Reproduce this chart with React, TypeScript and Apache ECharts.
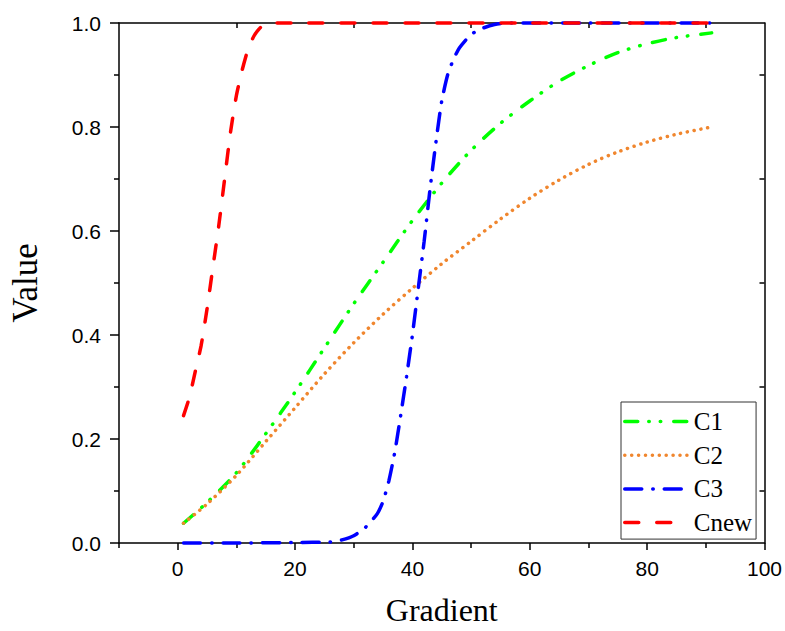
import React, { useEffect, useRef } from "react";
import * as echarts from "echarts";

// Gradient positions sampled for each curve
const gradC1 = [1, 5, 10, 15, 20, 25, 30, 35, 40, 45, 50, 55, 60, 65, 70, 75, 80, 85, 91];
const valC1 = [0.038, 0.078, 0.135, 0.21, 0.29, 0.375, 0.46, 0.54, 0.62, 0.692, 0.755, 0.807, 0.85, 0.888, 0.918, 0.943, 0.96, 0.972, 0.981];

const gradC2 = [1, 5, 10, 15, 20, 25, 30, 35, 40, 45, 50, 55, 60, 65, 70, 75, 80, 85, 91];
const valC2 = [0.038, 0.075, 0.13, 0.195, 0.26, 0.325, 0.385, 0.44, 0.49, 0.537, 0.58, 0.623, 0.663, 0.698, 0.728, 0.752, 0.771, 0.786, 0.8];

const gradC3 = [1, 10, 20, 26, 28, 30, 32, 34, 35, 36, 37, 38, 39, 40, 41, 42, 43, 44, 45, 46, 47, 48, 50, 52, 54, 56, 70, 91];
const valC3 = [0, 0, 0.001, 0.002, 0.006, 0.014, 0.03, 0.056, 0.08, 0.12, 0.175, 0.245, 0.32, 0.4, 0.49, 0.58, 0.68, 0.77, 0.85, 0.9, 0.93, 0.952, 0.978, 0.99, 0.997, 1, 1, 1];

const gradCnew = [1, 2, 3, 4, 5, 6, 7, 8, 9, 10, 11, 12, 13, 14, 15, 17, 20, 40, 60, 80, 91];
const valCnew = [0.245, 0.28, 0.33, 0.38, 0.45, 0.53, 0.61, 0.7, 0.79, 0.86, 0.91, 0.95, 0.975, 0.99, 1, 1, 1, 1, 1, 1, 1];

const xMajorTicks = [0, 20, 40, 60, 80, 100];
const xMinorTicks = [-10, 10, 30, 50, 70, 90];
const yOppositeTicks = [0.1, 0.3, 0.5, 0.7, 0.9];

const seriesNames = ["C1", "C2", "C3", "Cnew"];
const seriesColors = ["#00FF00", "#F0862E", "#0000FF", "#FF0000"];
const seriesDash: number[][] = [
  [13, 11, 0.5, 11, 0.5, 13],
  [0.1, 6.8],
  [17, 11, 0.5, 11],
  [14, 18],
];
const seriesSmooth = [0.3, 0.3, 0.2, 0.2];

const pairs = (xs: number[], ys: number[]) => xs.map((x, i) => [x, ys[i]]);
const seriesData = [
  pairs(gradC1, valC1),
  pairs(gradC2, valC2),
  pairs(gradC3, valC3),
  pairs(gradCnew, valCnew),
];

const SERIF = "'Liberation Serif', 'Times New Roman', serif";
const SANS = "'Liberation Sans', Arial, sans-serif";

const axisLine = { show: true, onZero: false, lineStyle: { color: "#000", width: 1.5 } };
const tickLine = { color: "#000", width: 1.5 };

export default function App() {
  const ref = useRef<HTMLDivElement>(null);

  useEffect(() => {
    if (!ref.current) return;
    const chart = echarts.init(ref.current, undefined, { renderer: "svg" });

    const lineStyleFor = (i: number) => ({
      color: seriesColors[i],
      width: 3.5,
      type: seriesDash[i],
      cap: "round" as const,
    });

    chart.setOption({
      animation: false,
      backgroundColor: "#fff",
      grid: { left: 118, width: 649, top: 23, height: 523, containLabel: false },
      legend: {
        orient: "vertical",
        left: 621,
        top: 402,
        padding: [7, 4, 4, 2],
        itemGap: 8.7,
        itemWidth: 64,
        itemHeight: 14,
        borderColor: "#333",
        borderWidth: 1,
        borderRadius: 0,
        backgroundColor: "#fff",
        textStyle: { fontFamily: SERIF, fontSize: 25, color: "#000", lineHeight: 25 },
        data: seriesNames.map((name, i) => ({
          name,
          lineStyle: lineStyleFor(i),
          // the key shows only the stroke pattern, no marker
          itemStyle: { opacity: 0 },
        })),
      },
      xAxis: [
        {
          type: "value",
          position: "bottom",
          min: -10,
          max: 100,
          interval: 10,
          axisLine,
          axisTick: { show: true, inside: false, length: 7, customValues: xMajorTicks, lineStyle: tickLine },
          axisLabel: {
            customValues: xMajorTicks,
            formatter: (v: number) => (v % 20 === 0 ? String(v) : ""),
            fontFamily: SANS,
            fontSize: 21,
            color: "#000",
            margin: 15,
          },
          splitLine: { show: false },
          name: "Gradient",
          nameLocation: "middle",
          nameGap: 51,
          nameTextStyle: { fontFamily: SERIF, fontSize: 32, color: "#000" },
        },
        {
          type: "value",
          position: "bottom",
          min: -10,
          max: 100,
          interval: 10,
          axisLine: { show: false },
          axisTick: { show: true, inside: false, length: 5, customValues: xMinorTicks, lineStyle: tickLine },
          axisLabel: { show: false },
          splitLine: { show: false },
        },
        {
          type: "value",
          position: "top",
          min: -10,
          max: 100,
          interval: 10,
          axisLine,
          axisTick: { show: true, inside: true, length: 5, customValues: xMinorTicks.slice(1), lineStyle: tickLine },
          axisLabel: { show: false },
          splitLine: { show: false },
        },
      ],
      yAxis: [
        {
          type: "value",
          position: "left",
          min: 0,
          max: 1,
          interval: 0.2,
          axisLine,
          axisTick: { show: true, inside: false, length: 9, lineStyle: tickLine },
          minorTick: { show: true, splitNumber: 2, length: 5, lineStyle: tickLine },
          axisLabel: {
            formatter: (v: number) => v.toFixed(1),
            fontFamily: SANS,
            fontSize: 21,
            color: "#000",
            margin: 18,
          },
          splitLine: { show: false },
          minorSplitLine: { show: false },
          name: "Value",
          nameLocation: "middle",
          nameGap: 76,
          nameTextStyle: { fontFamily: SERIF, fontSize: 35, color: "#000" },
        },
        {
          type: "value",
          position: "right",
          min: 0,
          max: 1,
          interval: 0.2,
          axisLine,
          axisTick: { show: true, inside: true, length: 5, customValues: yOppositeTicks, lineStyle: tickLine },
          axisLabel: { show: false },
          splitLine: { show: false },
        },
      ],
      series: seriesNames.map((name, i) => ({
        name,
        type: "line",
        xAxisIndex: 0,
        yAxisIndex: 0,
        data: seriesData[i],
        symbol: "none",
        showSymbol: false,
        smooth: seriesSmooth[i],
        clip: false,
        lineStyle: lineStyleFor(i),
        itemStyle: { color: seriesColors[i] },
        z: 2 + i,
      })),
    });

    return () => chart.dispose();
  }, []);

  return <div ref={ref} style={{ width: 785, height: 631, position: "absolute", left: 0, top: 0 }} />;
}
